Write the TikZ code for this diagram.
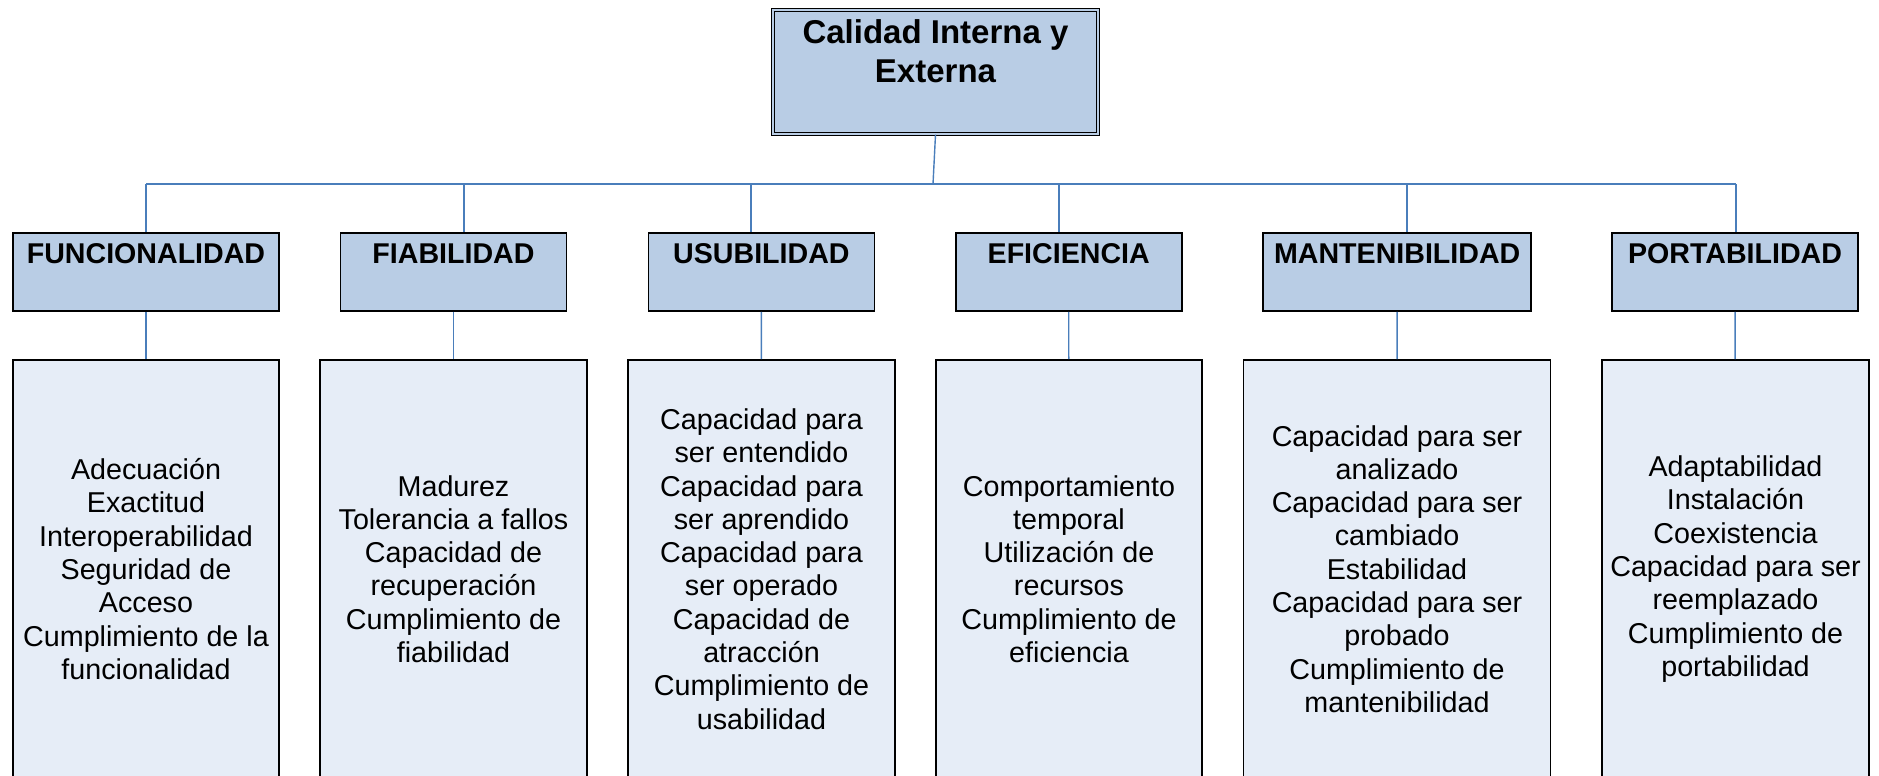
\documentclass[tikz,border=0pt]{standalone}
\usepackage{fontspec}
\setmainfont{Liberation Sans}
\usepackage{xcolor}
\definecolor{headfill}{RGB}{185,205,229}
\definecolor{itemfill}{RGB}{230,237,247}
\definecolor{linkblue}{RGB}{74,126,187}

\tikzset{
  topbox/.style={draw=black, double=headfill, double distance=2.2pt, line width=1.2pt,
    fill=headfill, inner sep=0pt, minimum width=325pt, text height=72pt, text depth=52pt,
    align=center, font=\bfseries\fontsize{33}{39}\selectfont},
  hdrbox/.style={draw=black, line width=1.6pt, fill=headfill, inner sep=0pt,
    text height=30pt, text depth=48pt, font=\bfseries\fontsize{28.6}{33}\selectfont},
  itembox/.style={draw=black, line width=1.6pt, fill=itemfill, inner sep=0pt,
    minimum height=418pt, align=center, font=\fontsize{28.7}{33.3}\selectfont},
  link/.style={draw=linkblue, line width=1.4pt}
}

\begin{document}
\begin{tikzpicture}[x=1pt, y=-1pt]
            \useasboundingbox (0,0) rectangle (1879,776);
            \clip (0,0) rectangle (1879,776);

            % root
            \node[topbox] (calidad) at (935.5,72) {Calidad Interna y\\Externa};

            % characteristics
            \node[hdrbox, minimum width=266pt] (funcH) at (146,272)    {FUNCIONALIDAD};
            \node[hdrbox, minimum width=226pt] (fiabH) at (453.5,272)  {FIABILIDAD};
            \node[hdrbox, minimum width=226pt] (usubH) at (761.4,272)  {USUBILIDAD};
            \node[hdrbox, minimum width=226pt] (eficH) at (1068.7,272) {EFICIENCIA};
            \node[hdrbox, minimum width=268pt] (mantH) at (1397.2,272) {MANTENIBILIDAD};
            \node[hdrbox, minimum width=246pt] (portH) at (1735,272)   {PORTABILIDAD};

            % sub-characteristics
            \node[itembox, minimum width=266pt] (funcC) at (146,569)
              {Adecuación\\Exactitud\\Interoperabilidad\\Seguridad de\\Acceso\\Cumplimiento de la\\funcionalidad};
            \node[itembox, minimum width=267pt] (fiabC) at (453.5,569)
              {Madurez\\Tolerancia a fallos\\Capacidad de\\recuperación\\Cumplimiento de\\fiabilidad};
            \node[itembox, minimum width=267pt] (usubC) at (761.5,569)
              {Capacidad para\\ser entendido\\Capacidad para\\ser aprendido\\Capacidad para\\ser operado\\Capacidad de\\atracción\\Cumplimiento de\\usabilidad};
            \node[itembox, minimum width=266pt] (eficC) at (1069,569)
              {Comportamiento\\temporal\\Utilización de\\recursos\\Cumplimiento de\\eficiencia};
            \node[itembox, minimum width=307pt] (mantC) at (1397,569)
              {Capacidad para ser\\analizado\\Capacidad para ser\\cambiado\\Estabilidad\\Capacidad para ser\\probado\\Cumplimiento de\\mantenibilidad};
            \node[itembox, minimum width=267pt] (portC) at (1735.5,569)
              {Adaptabilidad\\Instalación\\Coexistencia\\Capacidad para ser\\reemplazado\\Cumplimiento de\\portabilidad};

            % bus
            \coordinate (bt) at (933,184);
            \coordinate (b1) at (146,184);
            \coordinate (b2) at (464,184);
            \coordinate (b3) at (751,184);
            \coordinate (b4) at (1059,184);
            \coordinate (b5) at (1407,184);
            \coordinate (b6) at (1736,184);

            \draw[link] (calidad.south) -- (bt);
            \draw[link] (b1) -- (b6);
            \draw[link] (b1) -- (b1 |- funcH.north);
            \draw[link] (b2) -- (b2 |- fiabH.north);
            \draw[link] (b3) -- (b3 |- usubH.north);
            \draw[link] (b4) -- (b4 |- eficH.north);
            \draw[link] (b5) -- (b5 |- mantH.north);
            \draw[link] (b6) -- (b6 |- portH.north);

            \draw[link] (funcH) -- (funcC);
            \draw[link] (fiabH) -- (fiabC);
            \draw[link] (usubH) -- (usubC);
            \draw[link] (eficH) -- (eficC);
            \draw[link] (mantH) -- (mantC);
            \draw[link] (portH) -- (portC);
        \end{tikzpicture}
\end{document}
